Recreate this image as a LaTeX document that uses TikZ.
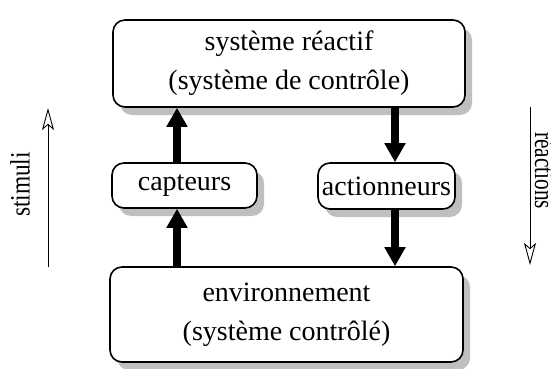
\documentclass[tikz,border=0pt]{standalone}
\usepackage{fontspec}
\setmainfont{Liberation Serif}
\usetikzlibrary{arrows.meta,shadows}
\tikzset{
  box/.style={draw, line width=1.6pt, rounded corners=12pt, fill=white,
    align=center, inner sep=0pt,
    font=\fontsize{28}{39}\selectfont,
    drop shadow={shadow xshift=7pt, shadow yshift=-8pt, fill=black!25, opacity=1}},
  bigarrow/.style={line width=8pt, -{Triangle[length=19pt, width=20pt]}},
  thinarrow/.style={line width=0.9pt, -{Stealth[open, length=22pt, width=12pt, inset=5pt, line width=0.9pt]}},
  sidelabel/.style={inner sep=0pt, font=\fontsize{28}{32}\selectfont}
}
\begin{document}
\begin{tikzpicture}[x=1pt,y=-1pt]
\useasboundingbox (0,0) rectangle (551,369);
\node[box, minimum width=352pt, minimum height=87pt] (top) at (289,63.5)
  {système réactif\\(système de contrôle)};
\node[box, minimum width=145pt, minimum height=45pt] (cap) at (184.5,185.5) {capteurs};
\node[box, minimum width=137pt, minimum height=46pt] (act) at (386.5,186) {actionneurs};
\node[box, minimum width=353pt, minimum height=95pt] (env) at (286.5,314.5)
  {environnement\\(système contrôlé)};
\coordinate (xl) at (177,0);
\coordinate (xr) at (395,0);
\draw[bigarrow] (env.north -| xl) -- (cap.south -| xl);
\draw[bigarrow] (cap.north -| xl) -- (top.south -| xl);
\draw[bigarrow] (top.south -| xr) -- (act.north -| xr);
\draw[bigarrow] (act.south -| xr) -- (env.north -| xr);
\coordinate (s1) at (48,267);
\coordinate (s2) at (48,108);
\coordinate (r1) at (530,107);
\coordinate (r2) at (530,265);
\draw[thinarrow] (s1) -- (s2);
\draw[thinarrow] (r1) -- (r2);
\node[sidelabel, rotate=90, anchor=base] (stim) at (29.5,184.5) {\scalebox{0.835}[1]{stimuli}};
\node[sidelabel, rotate=-90, anchor=base] (reac) at (535,170.5) {\scalebox{0.76}[1]{réactions}};
\end{tikzpicture}
\end{document}
